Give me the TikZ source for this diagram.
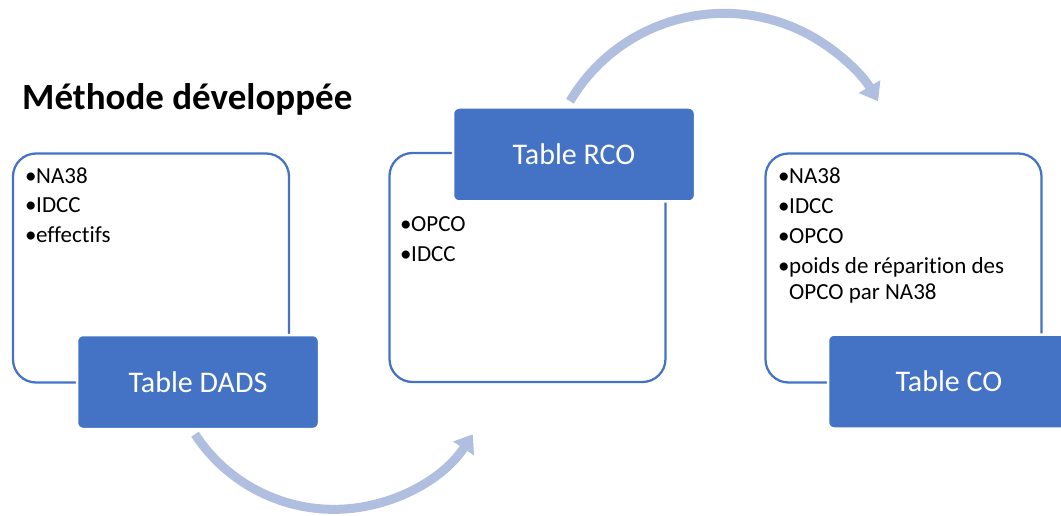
\documentclass[tikz,border=0pt]{standalone}
\usepackage{fontspec}
\setmainfont[Ligatures=NoCommon]{Carlito}
\usepackage{tikz}
\usetikzlibrary{calc, arrows.meta}
\definecolor{accent}{RGB}{68,114,196}
\definecolor{flowcol}{RGB}{176,190,223}
\newcommand{\itm}[1]{\makebox[11pt][l]{\textbullet}#1}

\begin{document}
\begin{tikzpicture}[x=1pt, y=1pt,
    frame/.style = {draw=accent, line width=2.25pt, rounded corners=23pt, minimum width=276pt, minimum height=229pt},
    tab/.style = {fill=accent, draw=white, line width=2.5pt, rounded corners=6pt, minimum width=242pt, minimum height=94pt, text=white, font=\fontsize{30}{36}\selectfont},
    items/.style = {anchor=base west, align=left, inner sep=0pt, font=\fontsize{23}{26}\selectfont},
    flow/.style = {draw=flowcol, line width=9pt, -{Triangle[width=24pt,length=17pt]}}]
            \useasboundingbox (0,0) rectangle (1061,515);
            \node[anchor=base west, inner sep=0pt, font=\fontsize{37}{44}\selectfont\bfseries] (title) at (22,405) {Méthode développée};

            \node[frame] (dadsbox) at (151,247) {};
            \node[frame] (rcobox) at (527.5,247.5) {};
            \node[frame] (cobox) at (903.5,247) {};

            \node[tab] (dads) at (198,133) {Table DADS};
            \node[tab] (rco) at (574,360.5) {Table RCO};
            \node[tab] (co) at (949,133.5) {Table CO};

            \node[items] (dadslist) at (25,272) {\itm{NA38}\\[4pt]\itm{IDCC}\\[4pt]\itm{effectifs}};
            \node[items] (rcolist) at (400,253) {\itm{OPCO}\\[4pt]\itm{IDCC}};
            \node[items] (colist) at (778,215) {\itm{NA38}\\[4pt]\itm{IDCC}\\[4pt]\itm{OPCO}\\[4pt]\itm{poids de réparition des}\\\hspace*{11pt}OPCO par NA38};

            \coordinate (dadsout) at ($(dads.south)+(-3,-4)$);
            \coordinate (rcoout) at ($(rco.north)+(-4,5)$);
            \draw[flow] (dadsout) arc[start angle=213.2, end angle=326.8, radius=166pt];
            \draw[flow] (rcoout) arc[start angle=149.4, end angle=30.6, radius=179pt];
\end{tikzpicture}
\end{document}
